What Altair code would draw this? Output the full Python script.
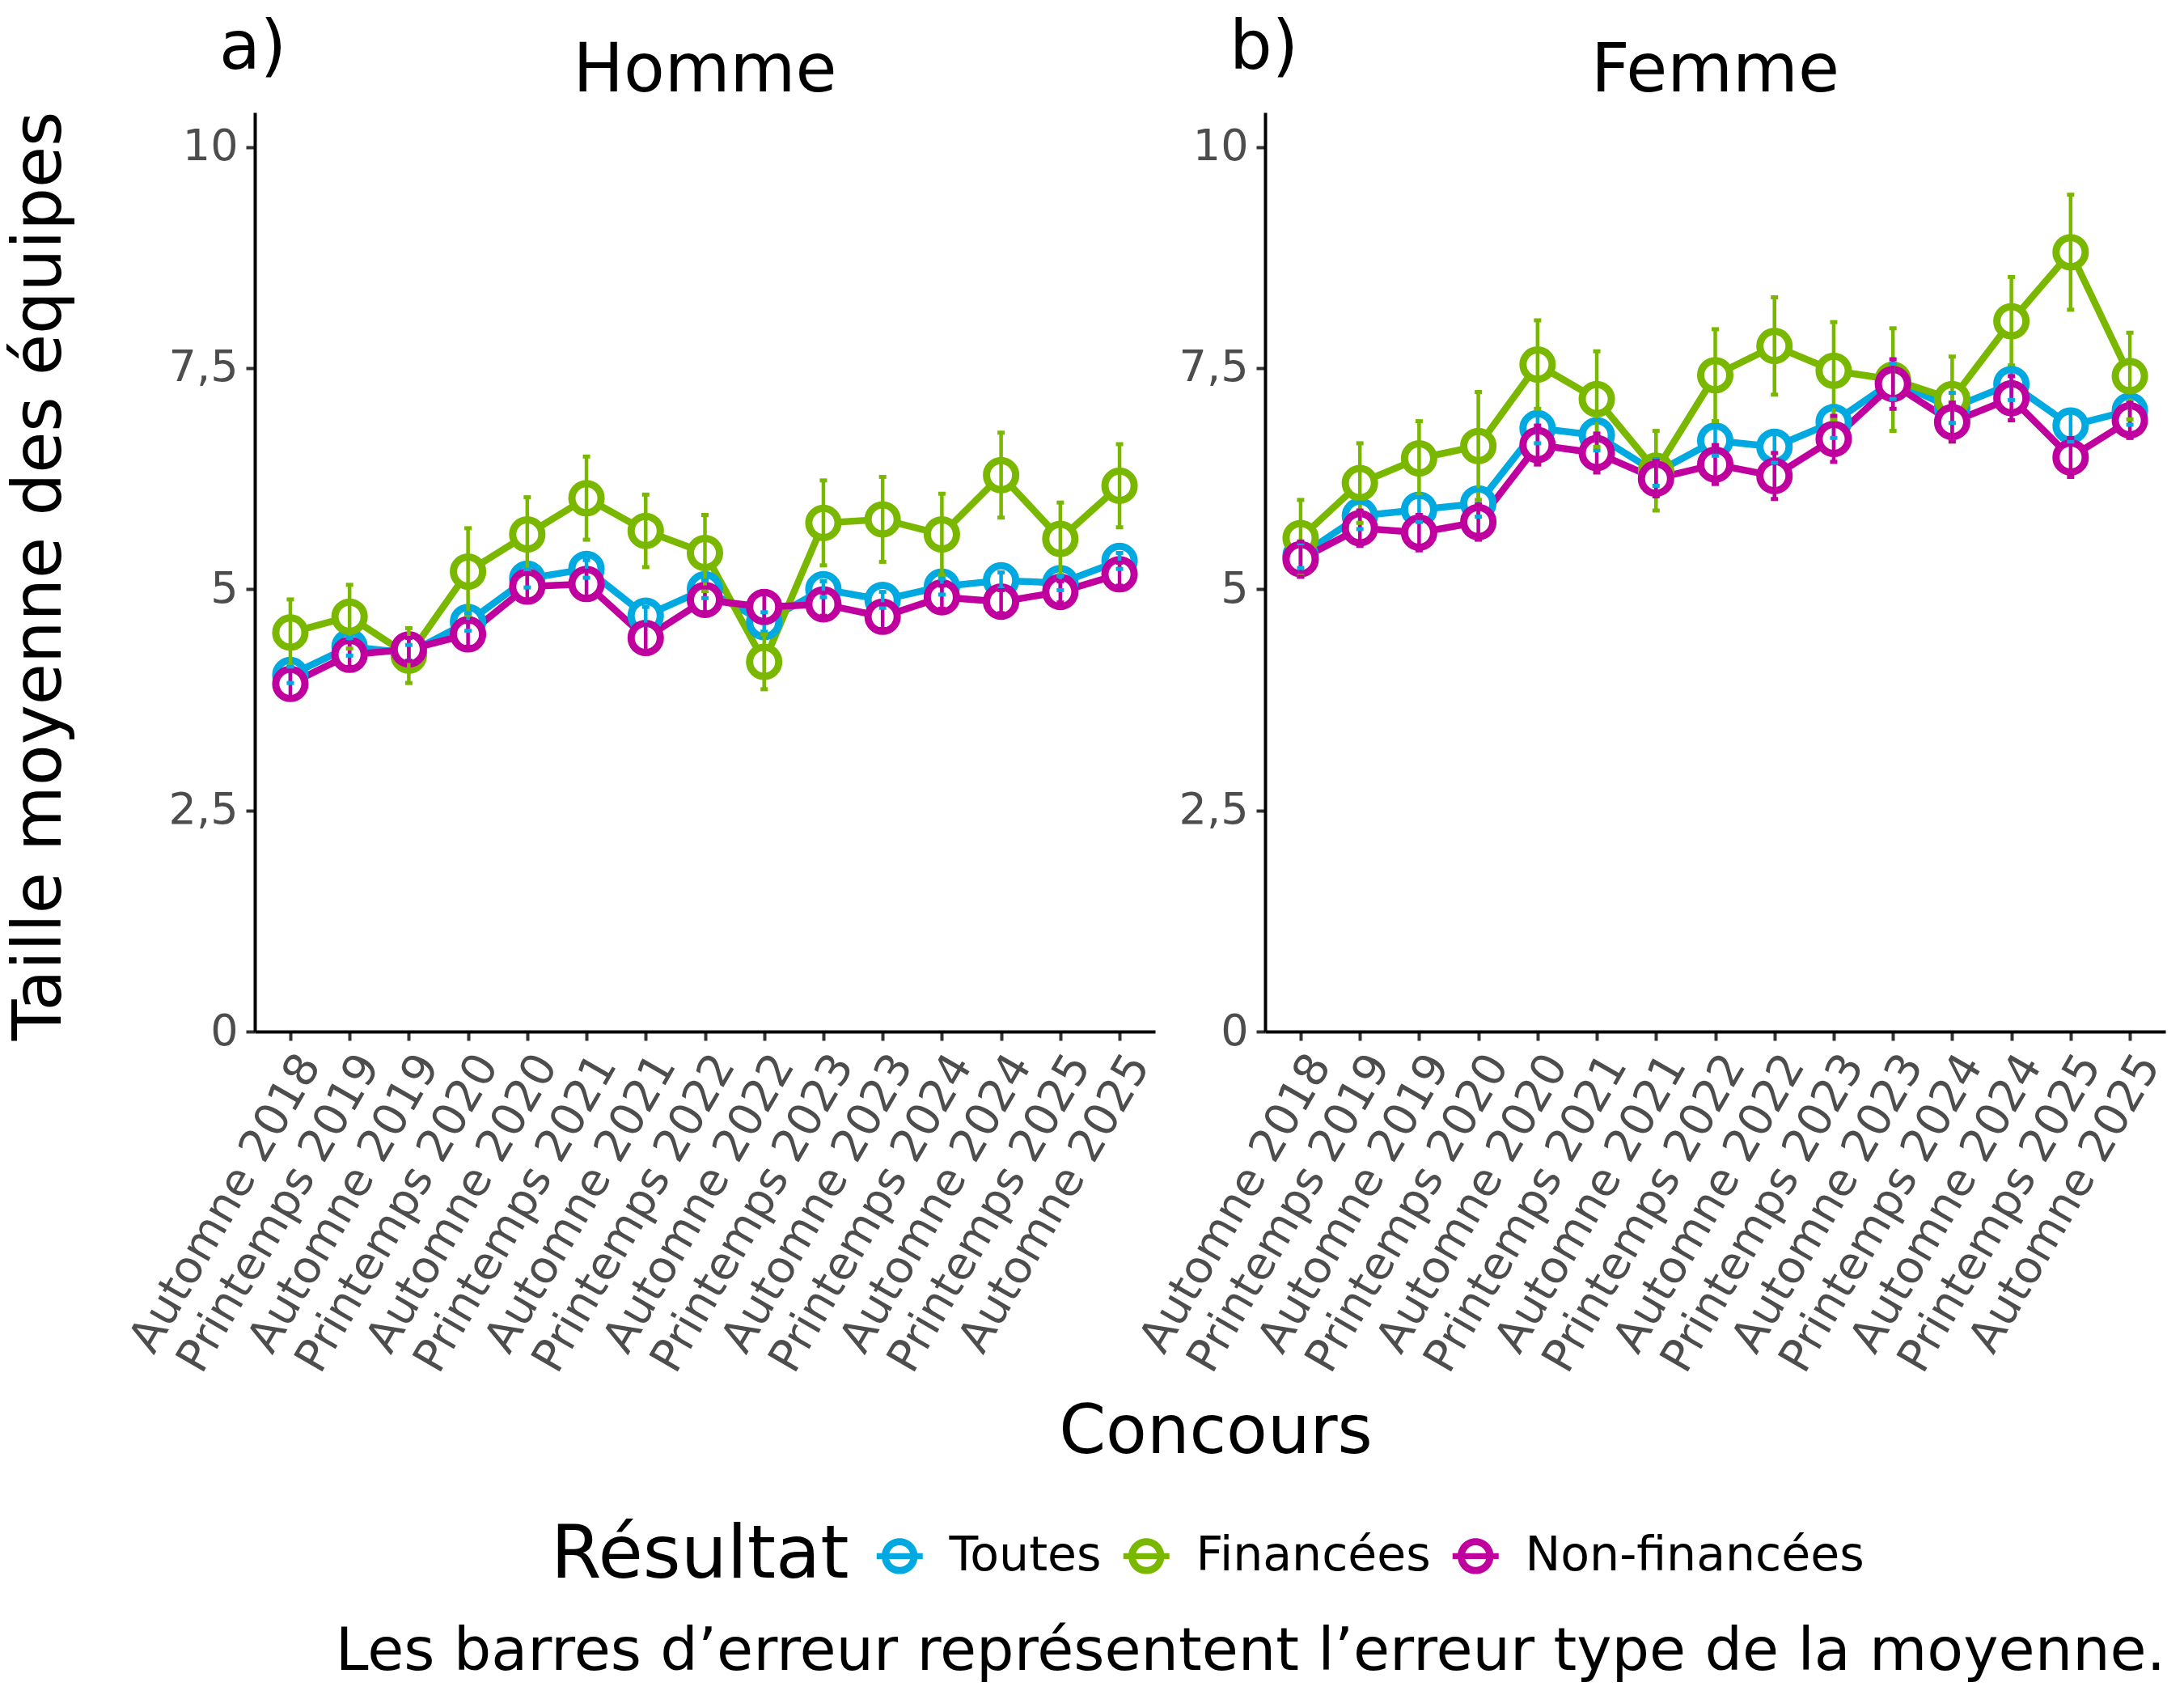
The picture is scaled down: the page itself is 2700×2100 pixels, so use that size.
import altair as alt
import pandas as pd

concours = ["Automne 2018", "Printemps 2019", "Automne 2019", "Printemps 2020",
            "Automne 2020", "Printemps 2021", "Automne 2021", "Printemps 2022",
            "Automne 2022", "Printemps 2023", "Automne 2023", "Printemps 2024",
            "Automne 2024", "Printemps 2025", "Automne 2025"]
resultats = ["Toutes", "Financées", "Non-financées"]
couleurs = ["#00A9E0", "#7AB800", "#BF009F"]

# Homme
toutes_h = [4.03, 4.35, 4.28, 4.63, 5.12, 5.23, 4.70, 5.00, 4.63, 5.00, 4.88, 5.03, 5.10, 5.07, 5.32]
toutes_h_se = [0.09, 0.10, 0.09, 0.10, 0.10, 0.10, 0.10, 0.10, 0.11, 0.09, 0.09, 0.09, 0.09, 0.08, 0.09]
fin_h = [4.51, 4.69, 4.25, 5.20, 5.62, 6.03, 5.66, 5.41, 4.18, 5.75, 5.79, 5.62, 6.29, 5.57, 6.17]
fin_h_se = [0.375, 0.36, 0.31, 0.49, 0.42, 0.47, 0.41, 0.43, 0.31, 0.48, 0.48, 0.46, 0.48, 0.41, 0.47]
non_h = [3.93, 4.26, 4.32, 4.49, 5.03, 5.06, 4.45, 4.88, 4.80, 4.83, 4.69, 4.91, 4.86, 4.97, 5.17]
non_h_se = [0.15, 0.14, 0.13, 0.14, 0.15, 0.15, 0.15, 0.14, 0.18, 0.13, 0.14, 0.13, 0.13, 0.12, 0.13]

# Femme
toutes_f = [5.38, 5.83, 5.90, 5.97, 6.82, 6.74, 6.32, 6.68, 6.61, 6.89, 7.35, 7.05, 7.32, 6.85, 7.02]
toutes_f_se = [0.14, 0.15, 0.14, 0.15, 0.17, 0.17, 0.15, 0.17, 0.18, 0.18, 0.20, 0.17, 0.18, 0.18, 0.16]
fin_f = [5.58, 6.20, 6.48, 6.62, 7.54, 7.15, 6.34, 7.42, 7.75, 7.47, 7.37, 7.15, 8.03, 8.81, 7.41]
fin_f_se = [0.43, 0.45, 0.42, 0.61, 0.50, 0.54, 0.45, 0.52, 0.55, 0.55, 0.58, 0.48, 0.50, 0.65, 0.49]
non_f = [5.34, 5.69, 5.64, 5.76, 6.63, 6.54, 6.25, 6.41, 6.28, 6.70, 7.32, 6.89, 7.16, 6.49, 6.91]
non_f_se = [0.20, 0.20, 0.20, 0.20, 0.22, 0.22, 0.20, 0.22, 0.26, 0.26, 0.28, 0.22, 0.25, 0.22, 0.20]

series = {
    "Homme": [("Toutes", toutes_h, toutes_h_se), ("Financées", fin_h, fin_h_se),
              ("Non-financées", non_h, non_h_se)],
    "Femme": [("Toutes", toutes_f, toutes_f_se), ("Financées", fin_f, fin_f_se),
              ("Non-financées", non_f, non_f_se)],
}

rows = []
for sexe, lst in series.items():
    for res, m, s in lst:
        for c, mv, sv in zip(concours, m, s):
            rows.append({"sexe": sexe, "concours": c, "resultat": res,
                         "moyenne": mv, "lo": mv - sv, "hi": mv + sv})
df = pd.DataFrame(rows)

W, H = 1113, 1136
FONT = "DejaVu Sans"

color_scale = alt.Scale(domain=resultats, range=couleurs)
# ring (outer clockwise, inner counter-clockwise) plus a horizontal bar
legend_symbol = ("M 0.78 0 A 0.78 0.78 0 1 1 -0.78 0 A 0.78 0.78 0 1 1 0.78 0 Z "
                 "M 0.47 0 A 0.47 0.47 0 1 0 -0.47 0 A 0.47 0.47 0 1 0 0.47 0 Z "
                 "M -1 -0.13 L 1 -0.13 L 1 0.13 L -1 0.13 Z")

leg = alt.Legend(title="Résultat", orient="none", legendX=366, legendY=1755,
                 direction="horizontal", titleOrient="left",
                 titleFontSize=90, titleFontWeight="normal", titleColor="black",
                 titleFont=FONT, titlePadding=33, titleBaseline="middle",
                 titleLimit=0, labelLimit=0,
                 labelFontSize=58.5, labelColor="black", labelFont=FONT,
                 labelOffset=32, columnPadding=26,
                 symbolType=legend_symbol, symbolSize=3249,
                 symbolStrokeWidth=0, symbolOpacity=1)
color_leg = alt.Color("resultat:N", scale=color_scale, sort=resultats, legend=leg)
color = alt.Color("resultat:N", scale=color_scale, sort=resultats, legend=None)


def panel(sexe, tag, first):
    base = alt.Chart(df).transform_filter(alt.datum.sexe == sexe)
    x = alt.X("concours:N", sort=concours,
              scale=alt.Scale(type="point", padding=0.6),
              axis=alt.Axis(title=None, labelAngle=300, labelAlign="right",
                            labelBaseline="top", labelFontSize=56,
                            labelColor="#4D4D4D", labelPadding=8, labelLimit=0,
                            tickSize=11, tickWidth=4, tickColor="#333333",
                            domainColor="black", domainWidth=4, grid=False,
                            labelFont=FONT, labelOverlap=False))
    y = alt.Y("moyenne:Q",
              scale=alt.Scale(domain=[0, 10.39], nice=False, zero=True),
              axis=alt.Axis(title=None, values=[0, 2.5, 5, 7.5, 10], format="~g",
                            labelExpr="replace(datum.label, '.', ',')",
                            labelFontSize=54, labelColor="#4D4D4D", labelPadding=10,
                            tickSize=11, tickWidth=4, tickColor="#333333",
                            domainColor="black", domainWidth=4, grid=False,
                            labelFont=FONT))

    # legend carrier: tiny filled points hidden under the lines
    carrier = base.mark_point(shape="circle", filled=True, size=4).encode(
        x=x, y=y, color=color_leg if first else color)
    lines = base.mark_line(strokeWidth=8.5).encode(x=x, y=y, color=color)
    points = base.mark_point(shape="circle", filled=False, fill="white", size=1300,
                             strokeWidth=9, opacity=1).encode(x=x, y=y, color=color)
    rules = base.mark_rule(strokeWidth=4.5).encode(
        x=x, y=alt.Y("lo:Q", scale=alt.Scale(domain=[0, 10.39], nice=False)),
        y2="hi:Q", color=color)
    cap_lo = base.mark_tick(thickness=5, size=9, opacity=1).encode(
        x=x, y=alt.Y("lo:Q"), color=color)
    cap_hi = base.mark_tick(thickness=5, size=9, opacity=1).encode(
        x=x, y=alt.Y("hi:Q"), color=color)

    one = alt.Data(values=[{"k": 1}])
    title = alt.Chart(one).mark_text(text=sexe, fontSize=83, font=FONT, color="black",
                                     align="center", baseline="alphabetic").encode(
        x=alt.value(W / 2), y=alt.value(-26))
    tagt = alt.Chart(one).mark_text(text=tag, fontSize=83, font=FONT, color="black",
                                    align="left", baseline="alphabetic").encode(
        x=alt.value(-44), y=alt.value(-54))
    layers = [carrier, lines, points, rules, cap_lo, cap_hi, title, tagt]
    if first:
        ytitle = alt.Chart(one).mark_text(text="Taille moyenne des équipes", fontSize=83,
                                          font=FONT, color="black", angle=270,
                                          align="center", baseline="middle").encode(
            x=alt.value(-265), y=alt.value(573))
        xtitle = alt.Chart(one).mark_text(text="Concours", fontSize=83, font=FONT,
                                          color="black", align="center",
                                          baseline="middle").encode(
            x=alt.value(1188), y=alt.value(1632))
        layers += [ytitle, xtitle]
    else:
        caption = alt.Chart(one).mark_text(
            text="Les barres d’erreur représentent l’erreur type de la moyenne.",
            fontSize=73.3, font=FONT, color="black", align="right",
            baseline="alphabetic").encode(x=alt.value(W), y=alt.value(1925))
        layers += [caption]
    return alt.layer(*layers).properties(width=W, height=H)


left = panel("Homme", "a)", True)
right = panel("Femme", "b)", False)

chart = alt.hconcat(left, right, spacing=136, bounds="flush").resolve_scale(
    color="shared"
).properties(
    padding={"left": 0, "top": 10, "right": 0, "bottom": 10}
).configure(font=FONT, background="white",
            view=alt.ViewConfig(stroke="transparent"))

chart.save("out.html", embed_options={"renderer": "svg", "actions": False})
